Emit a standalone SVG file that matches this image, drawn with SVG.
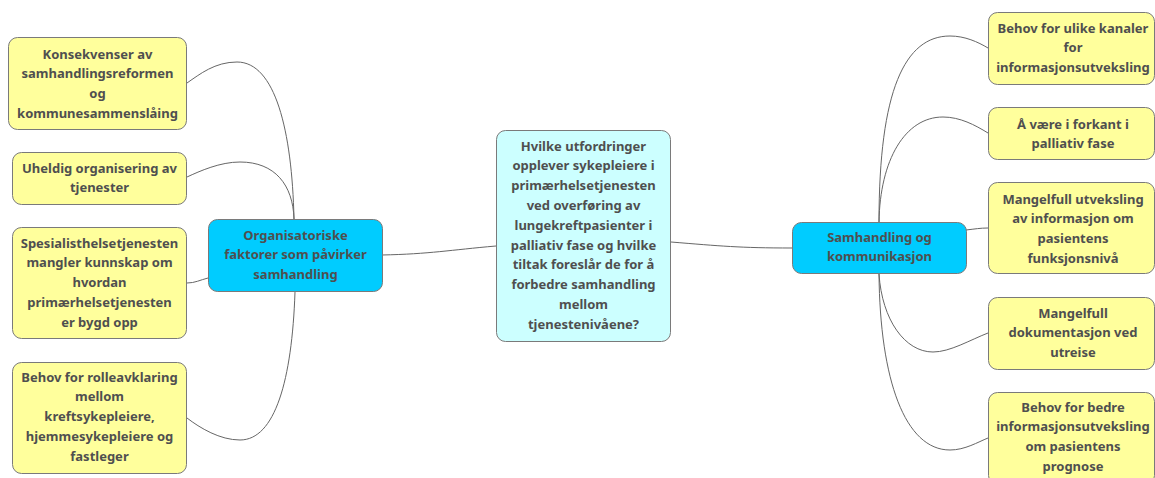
<svg xmlns="http://www.w3.org/2000/svg" width="1155" height="478" viewBox="0 0 1155 478">
<style>
.y{fill:#ffff9c;stroke:#7a7a7a;stroke-width:1}
.c{fill:#ccffff;stroke:#7a7a7a;stroke-width:1}
.b{fill:#00ccff;stroke:#7a7a7a;stroke-width:1}
text{font-family:"Noto Sans","Open Sans","DejaVu Sans",sans-serif;font-weight:bold;font-size:13px;fill:#4f4f4f;text-anchor:middle}
.l{fill:none;stroke:#666;stroke-width:1}
</style>
<rect width="1155" height="478" fill="#ffffff"/>
<g id="connectors">
<path class="l" d="M294,219 C292,130 275,62 237,62 C215,62 200,74 187,83"/>
<path class="l" d="M294,219 C293,185 275,162 240,162 C220,162 200,171 187,177"/>
<path class="l" d="M208,278 C200,280 195,283 187,283"/>
<path class="l" d="M295,292 C292,380 275,440 240,440 C220,440 200,428 187,418"/>
<path class="l" d="M382,255 C430,254 450,250 496,246"/>
<path class="l" d="M671,242 C720,246 740,248 792,248"/>
<path class="l" d="M879,222 C879,90 905,36 950,36 C965,36 978,42 988,48"/>
<path class="l" d="M879,222 C880,160 905,117 943,117 C960,117 975,125 988,133"/>
<path class="l" d="M966,230 C975,229 980,228 988,228"/>
<path class="l" d="M879,274 C882,320 905,352 933,352 C950,352 970,340 988,333"/>
<path class="l" d="M879,274 C880,380 905,450 950,450 C965,450 978,442 988,438"/>
</g>
<g id="center">
<rect class="c" x="496.5" y="130.5" width="174" height="211" rx="9"/>
<text x="583.5" y="150.5">Hvilke utfordringer</text>
<text x="583.5" y="170.3">opplever sykepleiere i</text>
<text x="583.5" y="190.1">primærhelsetjenesten</text>
<text x="583.5" y="209.9">ved overføring av</text>
<text x="583.5" y="229.7">lungekreftpasienter i</text>
<text x="583.5" y="249.5">palliativ fase og hvilke</text>
<text x="583.5" y="269.3">tiltak foreslår de for å</text>
<text x="583.5" y="289.1">forbedre samhandling</text>
<text x="583.5" y="308.9">mellom</text>
<text x="583.5" y="328.7">tjenestenivåene?</text>
</g>
<g id="org">
<rect class="b" x="208.5" y="219.5" width="174" height="72" rx="9"/>
<text x="295.5" y="239.5">Organisatoriske</text>
<text x="295.5" y="259.3">faktorer som påvirker</text>
<text x="295.5" y="279.1">samhandling</text>
</g>
<g id="sam">
<rect class="b" x="792.5" y="222.5" width="174" height="51" rx="9"/>
<text x="879.5" y="241.5">Samhandling og</text>
<text x="879.5" y="261.3">kommunikasjon</text>
</g>
<g id="l1">
<rect class="y" x="8.5" y="37.5" width="178" height="92" rx="9"/>
<text x="97.5" y="58.5">Konsekvenser av</text>
<text x="97.5" y="78.3">samhandlingsreformen</text>
<text x="97.5" y="98.1">og</text>
<text x="97.5" y="117.9">kommunesammenslåing</text>
</g>
<g id="l2">
<rect class="y" x="12.5" y="152.5" width="174" height="52" rx="9"/>
<text x="99.5" y="172.5">Uheldig organisering av</text>
<text x="99.5" y="192.3">tjenester</text>
</g>
<g id="l3">
<rect class="y" x="12.5" y="227.5" width="174" height="111" rx="9"/>
<text x="99.5" y="247.5">Spesialisthelsetjenesten</text>
<text x="99.5" y="267.3">mangler kunnskap om</text>
<text x="99.5" y="287.1">hvordan</text>
<text x="99.5" y="306.9">primærhelsetjenesten</text>
<text x="99.5" y="326.7">er bygd opp</text>
</g>
<g id="l4">
<rect class="y" x="12.5" y="362.5" width="174" height="111" rx="9"/>
<text x="99.5" y="381.5">Behov for rolleavklaring</text>
<text x="99.5" y="401.3">mellom</text>
<text x="99.5" y="421.1">kreftsykepleiere,</text>
<text x="99.5" y="440.9">hjemmesykepleiere og</text>
<text x="99.5" y="460.7">fastleger</text>
</g>
<g id="r1">
<rect class="y" x="988.5" y="12.5" width="166" height="72" rx="9"/>
<text x="1073" y="32.5">Behov for ulike kanaler</text>
<text x="1073" y="52.3">for</text>
<text x="1073" y="72.1">informasjonsutveksling</text>
</g>
<g id="r2">
<rect class="y" x="988.5" y="107.5" width="166" height="52" rx="9"/>
<text x="1073" y="128.5">Å være i forkant i</text>
<text x="1073" y="148.3">palliativ fase</text>
</g>
<g id="r3">
<rect class="y" x="988.5" y="182.5" width="166" height="91" rx="9"/>
<text x="1073" y="203.5">Mangelfull utveksling</text>
<text x="1073" y="223.3">av informasjon om</text>
<text x="1073" y="243.1">pasientens</text>
<text x="1073" y="262.9">funksjonsnivå</text>
</g>
<g id="r4">
<rect class="y" x="988.5" y="297.5" width="166" height="72" rx="9"/>
<text x="1073" y="317.5">Mangelfull</text>
<text x="1073" y="337.3">dokumentasjon ved</text>
<text x="1073" y="357.1">utreise</text>
</g>
<g id="r5">
<rect class="y" x="988.5" y="392.5" width="166" height="92" rx="9"/>
<text x="1073" y="411.5">Behov for bedre</text>
<text x="1073" y="431.3">informasjonsutveksling</text>
<text x="1073" y="451.1">om pasientens</text>
<text x="1073" y="470.9">prognose</text>
</g>
</svg>
